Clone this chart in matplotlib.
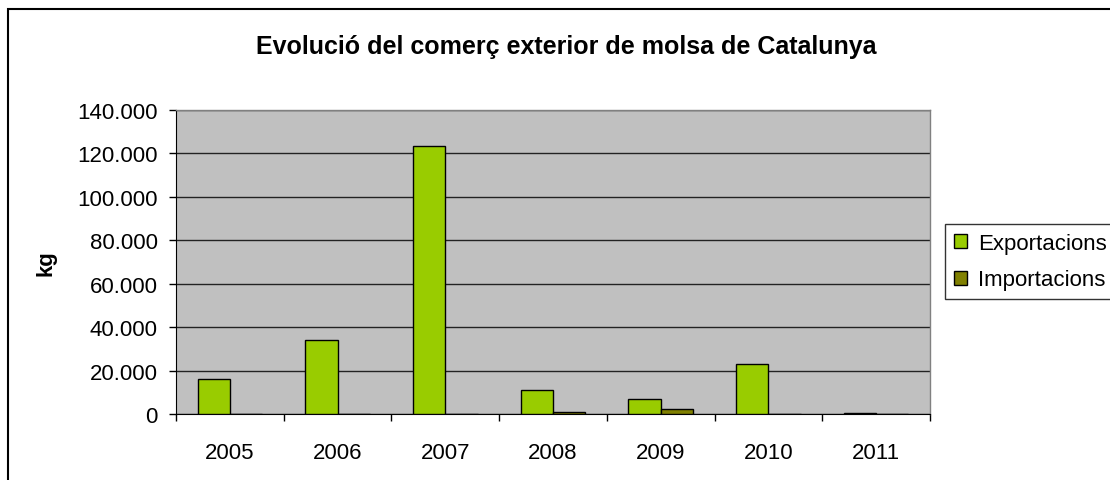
import matplotlib
matplotlib.use("Agg")
import matplotlib.pyplot as plt
import numpy as np
from matplotlib.patches import Rectangle
from matplotlib.ticker import FuncFormatter, FixedLocator

# Data (kg)
years = ["2005", "2006", "2007", "2008", "2009", "2010", "2011"]
exportacions = [16200, 34200, 123200, 11100, 6800, 22900, 600]
importacions = [0, 0, 0, 700, 2150, 0, 0]

plt.rcParams['font.family'] = ['Liberation Sans', 'DejaVu Sans']

W, H = 1110, 481
fig = plt.figure(figsize=(W / 100, H / 100), dpi=100)
fig.patch.set_facecolor('white')

# outer chart border (cut off on the right and bottom)
fig.patches.append(Rectangle((8 / W, -0.1), 2.0, (H - 10) / H + 0.1,
                             transform=fig.transFigure, fill=False,
                             edgecolor='black', linewidth=1.5))

ax = fig.add_axes([176 / W, (H - 415) / H, 754 / W, 304 / H])
ax.set_facecolor('#C0C0C0')

x = np.arange(len(years))
width = 0.3
ax.bar(x - width / 2, exportacions, width, color='#99CC00', edgecolor='black',
       linewidth=1, label='Exportacions', zorder=3)
ax.bar(x + width / 2, importacions, width, color='#808000', edgecolor='black',
       linewidth=1, label='Importacions', zorder=3)

ax.set_xlim(-0.5, len(years) - 0.5)
ax.set_ylim(0, 140000)
ax.set_yticks(np.arange(0, 140001, 20000))
ax.yaxis.set_major_formatter(FuncFormatter(lambda v, p: f"{int(v):,}".replace(",", ".")))
ax.yaxis.grid(True, color='#222222', linewidth=1, zorder=1)
ax.set_axisbelow(True)

ax.set_xticks(x)
ax.set_xticklabels(years)
ax.xaxis.set_minor_locator(FixedLocator(np.arange(-0.5, len(years), 1.0)))
ax.tick_params(axis='x', which='major', length=0, pad=20, labelsize=16)
ax.tick_params(axis='x', which='minor', length=5, width=1, direction='out')
ax.tick_params(axis='y', length=5, width=1, direction='out', labelsize=16, pad=8)

for side in ['top', 'right']:
    ax.spines[side].set_color('#808080')
    ax.spines[side].set_linewidth(1)
ax.spines['left'].set_color('black')
ax.spines['bottom'].set_color('black')

ax.set_ylabel('kg', fontsize=16, fontweight='bold', labelpad=15)

fig.text(566 / W, 1 - 54 / H, 'Evolució del comerç exterior de molsa de Catalunya',
         ha='center', va='baseline', fontsize=18, fontweight='bold')

fig.legend(loc='upper left', bbox_to_anchor=(945 / W, 1 - 225 / H),
           frameon=True, fancybox=False, edgecolor='black', fontsize=16,
           handlelength=0.6, handleheight=0.6, handletextpad=0.5,
           borderpad=0.4, labelspacing=0.7, borderaxespad=0)
leg = fig.legends[0]
leg.get_frame().set_linewidth(1)

fig.savefig('out.png', dpi=100)
